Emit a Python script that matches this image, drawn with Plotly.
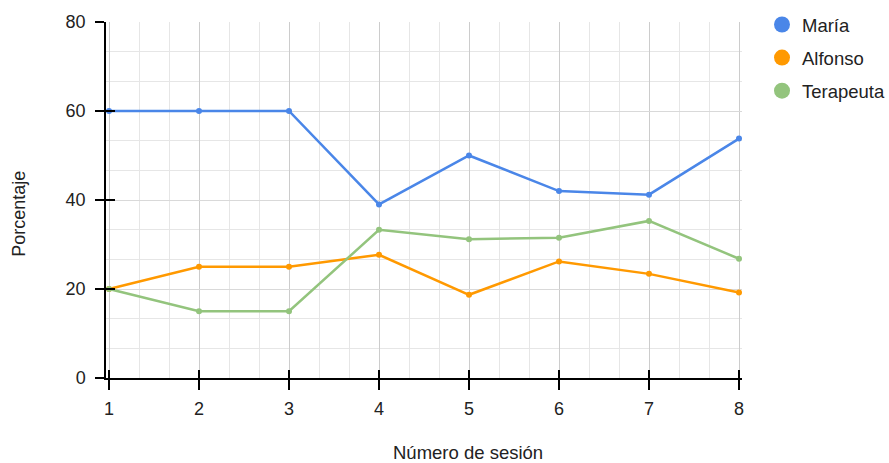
import plotly.graph_objects as go

sesiones = [1, 2, 3, 4, 5, 6, 7, 8]
maria = [60, 60, 60, 39, 50, 42, 41.2, 53.8]
alfonso = [20, 25, 25, 27.7, 18.7, 26.2, 23.4, 19.2]
terapeuta = [20, 15, 15, 33.3, 31.2, 31.5, 35.3, 26.8]
nombres = ["María", "Alfonso", "Terapeuta"]
colores = ["#4a86e8", "#ff9900", "#93c47d"]
y_ticks = [0, 20, 40, 60, 80]

FONT = "Arial, 'Liberation Sans', sans-serif"
TXT = "#222222"
x_range = [1 - 3 / 90, 8 + 3 / 90]
y_range = [0, 80]

# minor grid: thirds between major ticks
x_minor = [1 + k / 3 for k in range(22) if k % 3]
y_minor = [k * 20 / 3 for k in range(13) if k % 3]

fig = go.Figure()
for nombre, valores, color in zip(nombres, [maria, alfonso, terapeuta], colores):
    fig.add_trace(go.Scatter(
        x=sesiones, y=valores, mode="lines+markers",
        line=dict(color=color, width=2.5),
        marker=dict(color=color, size=6),
        showlegend=False, name=nombre,
    ))
# legend entries: large filled circles
for nombre, color in zip(nombres, colores):
    fig.add_trace(go.Scatter(
        x=[None], y=[None], mode="markers", name=nombre,
        marker=dict(color=color, size=16), legendgroup=nombre,
    ))
# empty traces so the overlay axes (inner tick halves) get drawn
fig.add_trace(go.Scatter(x=[None], y=[None], xaxis="x2", yaxis="y", showlegend=False))
fig.add_trace(go.Scatter(x=[None], y=[None], xaxis="x", yaxis="y2", showlegend=False))

axis_common = dict(showline=True, linecolor="black", linewidth=1.5,
                   tickcolor="black", tickwidth=1.5, zeroline=False)

fig.update_layout(
    width=889, height=463,
    margin=dict(l=106, r=147, t=22, b=85),
    paper_bgcolor="white", plot_bgcolor="white",
    font=dict(family=FONT, size=18, color=TXT),
    xaxis=dict(
        range=x_range, tickmode="array", tickvals=sesiones,
        ticks="outside", ticklen=10, ticklabelstandoff=4,
        showgrid=True, gridcolor="#cccccc", gridwidth=1,
        minor=dict(tickmode="array", tickvals=x_minor, showgrid=True,
                   gridcolor="#e6e6e6", gridwidth=1, ticks=""),
        **axis_common,
    ),
    xaxis2=dict(
        range=x_range, overlaying="x", anchor="y", side="bottom",
        tickmode="array", tickvals=sesiones, ticks="inside", ticklen=8,
        showticklabels=False, showgrid=False, **axis_common,
    ),
    yaxis=dict(
        range=y_range, tickmode="array", tickvals=y_ticks,
        ticks="outside", ticklen=9, ticklabelstandoff=6,
        showgrid=True, gridcolor="#d9d9d9", gridwidth=1,
        minor=dict(tickmode="array", tickvals=y_minor, showgrid=True,
                   gridcolor="#e6e6e6", gridwidth=1, ticks=""),
        **axis_common,
    ),
    yaxis2=dict(
        range=y_range, overlaying="y", anchor="x", side="left",
        tickmode="array", tickvals=y_ticks, ticks="inside", ticklen=9,
        showticklabels=False, showgrid=False, **axis_common,
    ),
    legend=dict(
        x=762 / 889, xanchor="left", y=1 - 6 / 463, yanchor="top",
        xref="container", yref="container",
        font=dict(family=FONT, size=18.5, color=TXT),
        traceorder="grouped", tracegroupgap=6, itemwidth=30,
        bgcolor="rgba(0,0,0,0)",
    ),
    annotations=[
        dict(text="Porcentaje", xref="paper", yref="paper", x=-0.138, y=0.462,
             textangle=-90, showarrow=False, font=dict(family=FONT, size=18, color=TXT),
             xanchor="center", yanchor="middle"),
        dict(text="Número de sesión", xref="paper", yref="paper", x=0.569, y=-0.21,
             showarrow=False, font=dict(family=FONT, size=18.5, color=TXT),
             xanchor="center", yanchor="middle"),
    ],
)

fig.write_html("out.html")
